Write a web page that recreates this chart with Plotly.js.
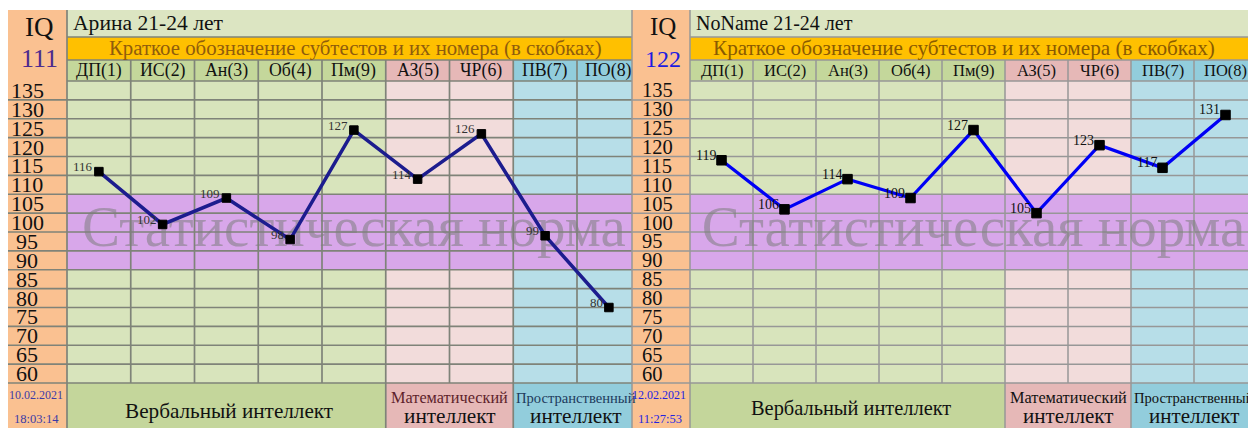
<!DOCTYPE html>
<html>
<head>
<meta charset="utf-8">
<script src="https://cdn.plot.ly/plotly-3.0.1.min.js"></script>
<style>html,body{margin:0;padding:0;background:#fff;}#chart{width:1248px;height:428px;}</style>
</head>
<body>
<div id="chart"></div>
<script>
// ---------------- data ----------------
const subtests = ['ДП(1)','ИС(2)','Ан(3)','Об(4)','Пм(9)','АЗ(5)','ЧР(6)','ПВ(7)','ПО(8)'];
const arinaScores  = [116, 102, 109, 98, 127, 114, 126, 99, 80];
const nonameScores = [119, 106, 114, 109, 127, 105, 123, 117, 131];
const rowLabels = [135, 130, 125, 120, 115, 110, 105, 100, 95, 90, 85, 80, 75, 70, 65, 60];
const personNames = ['Арина 21-24 лет', 'NoName 21-24 лет'];
const iqTotals = ['111', '122'];
const testDates = ['10.02.2021', '12.02.2021'];
const testTimes = ['18:03:14', '11:27:53'];
const headerText = 'Краткое обозначение субтестов и их номера (в скобках)';
const normText = 'Статистическая норма';
const normRange = [90, 110];
const groupNames = [['Вербальный интеллект'], ['Математический', 'интеллект'], ['Пространственный', 'интеллект']];
const groupSpans = [[0, 5], [5, 7], [7, 9]];

// ---------------- geometry / style ----------------
const W = 1248, H = 428;
const px = x => x / W, py = y => 1 - y / H;
const TOP = 10, ORANGE_TOP = 37, HEAD_TOP = 60, GRID_TOP = 81, GRID_BOT = 383, BOT = 428;
const VMIN = 60, VMAX = 140;
const vToY = v => GRID_TOP + (VMAX - v) * (GRID_BOT - GRID_TOP) / (VMAX - VMIN);
const SERIF = 'Liberation Serif';

const groupColors = [
  {head: '#c4d79b', body: '#d8e4bc', foot: '#c4d69b'},
  {head: '#e6b8b7', body: '#f2dcdb', foot: '#e6b8b7'},
  {head: '#92cddc', body: '#b7dee8', foot: '#92cddc'}
];

const panels = [
  {x0: 8, xc: 67, x1: 632, colW: 63.75, xa: 'x', ya: 'y', scores: arinaScores,
   line: '#1c1c8e', lw: 3.5, msize: 8.5, grid: '#7f8379', gw: 1.7,
   iqColor: '#4b2a8e', dateColor: '#3b3ba6', fz: 1.08, rowAlign: 'center', rowX: 27,
   labColor: '#333', orangeTxt: '#8f5c0c', mathTxt: '#5e1f2b', spaTxt: '#1d3b5c',
   orangeCx: 355, orangeSize: 20.8, verbSize: 21.2, verbY: 411, interSize: 21.3},
  {x0: 632, xc: 690, x1: 1248, colW: 63, xa: 'x2', ya: 'y2', scores: nonameScores,
   line: '#0000f5', lw: 3.2, msize: 9.5, grid: '#979797', gw: 1.5,
   iqColor: '#1c1ce0', dateColor: '#2424e0', fz: 1.0, rowAlign: 'left', rowX: 640,
   labColor: '#111', orangeTxt: '#8a5a00', mathTxt: '#111', spaTxt: '#111',
   orangeCx: 964, orangeSize: 21.2, verbSize: 20.4, verbY: 408, interSize: 21}
];

const traces = [];
const shapes = [];
const annotations = [];
const layout = {
  width: W, height: H, margin: {l: 0, r: 0, t: 0, b: 0},
  paper_bgcolor: '#ffffff', plot_bgcolor: 'rgba(0,0,0,0)',
  showlegend: false, hovermode: false, font: {family: SERIF}
};

function rect(x0, y0, x1, y1, color) {
  shapes.push({type: 'rect', xref: 'paper', yref: 'paper', x0: px(x0), x1: px(x1), y0: py(y1), y1: py(y0),
    fillcolor: color, line: {width: 0}, layer: 'below'});
}
function line(x0, y0, x1, y1, color, w) {
  shapes.push({type: 'line', xref: 'paper', yref: 'paper', x0: px(x0), x1: px(x1), y0: py(y0), y1: py(y1),
    line: {color: color, width: w}, layer: 'below'});
}
function text(x, y, t, size, color, opts) {
  annotations.push(Object.assign({xref: 'paper', yref: 'paper', x: px(x), y: py(y), text: t, showarrow: false,
    xanchor: 'center', yanchor: 'middle', font: {family: SERIF, size: size, color: color}}, opts || {}));
}

panels.forEach((p, pi) => {
  const edge = k => Math.min(p.xc + k * p.colW, p.x1);
  const nCols = subtests.length;
  const rangeEnd = -0.5 + (p.x1 - p.xc) / p.colW;
  const axSuffix = pi === 0 ? '' : '2';
  layout['xaxis' + axSuffix] = {domain: [px(p.xc), px(p.x1)], range: [-0.5, rangeEnd], type: 'category',
    categoryarray: subtests, showgrid: false, zeroline: false, showticklabels: false, ticks: '',
    showline: false, fixedrange: true, anchor: p.ya};
  layout['yaxis' + axSuffix] = {domain: [py(GRID_BOT), py(GRID_TOP)], range: [VMIN, VMAX],
    showgrid: false, zeroline: false, showticklabels: false, ticks: '', showline: false,
    fixedrange: true, anchor: p.xa};

  // backgrounds
  rect(p.x0, TOP, p.xc, BOT, '#fac191');
  rect(p.xc, TOP, p.x1, ORANGE_TOP, '#dce5c2');
  rect(p.xc, ORANGE_TOP, p.x1, HEAD_TOP, '#ffc000');
  groupSpans.forEach((g, gi) => {
    const a = edge(g[0]), b = edge(g[1]);
    rect(a, HEAD_TOP, b, GRID_TOP, groupColors[gi].head);
    rect(a, GRID_TOP, b, GRID_BOT, groupColors[gi].body);
    rect(a, GRID_BOT, b, BOT, groupColors[gi].foot);
  });
  rect(p.xc, vToY(normRange[1]), p.x1, vToY(normRange[0]), '#d8a7ea');

  // grid lines
  for (let v = VMIN; v <= VMAX; v += 5) {
    const y = vToY(v);
    line(v === VMAX ? p.xc : p.x0, y, p.x1, y, p.grid, p.gw);
  }
  line(p.xc, ORANGE_TOP, p.x1, ORANGE_TOP, p.grid, p.gw);
  line(p.xc, HEAD_TOP, p.x1, HEAD_TOP, p.grid, p.gw);
  for (let k = 1; k < nCols; k++) line(edge(k), HEAD_TOP, edge(k), GRID_BOT, p.grid, p.gw);
  line(p.xc, TOP, p.xc, BOT, p.grid, p.gw);
  groupSpans.slice(1).forEach(g => line(edge(g[0]), GRID_BOT, edge(g[0]), BOT, p.grid, p.gw));
  if (pi === 1) line(p.x0, TOP, p.x0, BOT, p.grid, p.gw);

  // left column texts
  const iqX = (p.x0 + p.xc) / 2 + 2;
  text(iqX, 27, 'IQ', 25 * p.fz, '#111');
  text(iqX, 59, iqTotals[pi], 24 * p.fz, p.iqColor);
  rowLabels.forEach(v => {
    annotations.push({xref: 'paper', yref: p.ya, x: px(p.rowX), y: v + 2.5, text: String(v), showarrow: false,
      xanchor: p.rowAlign, yanchor: 'middle', font: {family: SERIF, size: pi === 0 ? 22 : 20.5, color: '#111'}});
  });
  text(iqX - 4, 395, testDates[pi], 12, p.dateColor);
  text(iqX - 3, 419, testTimes[pi], 12.5, p.dateColor);

  // header texts
  text(p.xc + 3.5, 23, personNames[pi], 20 * p.fz, '#111', {xanchor: 'left'});
  text(p.orangeCx, 48.5, headerText, p.orangeSize, p.orangeTxt);
  subtests.forEach((s, i) => {
    annotations.push({xref: p.xa, yref: 'paper', x: s, y: py(70.5), text: s, showarrow: false,
      xanchor: 'center', yanchor: 'middle', font: {family: SERIF, size: 16.5 * p.fz, color: '#111'}});
  });

  // footer group names
  const gc = gi => (edge(groupSpans[gi][0]) + edge(groupSpans[gi][1])) / 2;
  text(gc(0) + 3, p.verbY, groupNames[0][0], p.verbSize, '#111');
  const mathC = edge(5) + (edge(7) - edge(5)) / 2;
  text(mathC, 397.5, groupNames[1][0], 16.3, p.mathTxt);
  text(mathC, 416, groupNames[1][1], p.interSize, '#111');
  text(edge(7) + 1, 397.5, groupNames[2][0], 14.6, p.spaTxt, {xanchor: 'left'});
  text(edge(7) + 63, 416, groupNames[2][1], p.interSize, '#111');

  // watermark (under the line)
  traces.push({type: 'scatter', mode: 'text', x: [subtests[4]], y: [(normRange[0] + normRange[1]) / 2],
    text: [normText], textposition: 'middle center', xaxis: p.xa, yaxis: p.ya, cliponaxis: false,
    textfont: {family: SERIF, size: 57, color: 'rgba(125,125,125,0.55)'}, hoverinfo: 'skip'});

  // data line
  traces.push({type: 'scatter', mode: 'lines+markers', x: subtests, y: p.scores, xaxis: p.xa, yaxis: p.ya,
    line: {color: p.line, width: p.lw}, cliponaxis: false,
    marker: {symbol: 'square', size: p.msize, color: '#000', line: {color: '#000', width: 1}}});

  p.scores.forEach((v, i) => {
    annotations.push({xref: p.xa, yref: p.ya, x: subtests[i], y: v, text: String(v), showarrow: false,
      xanchor: 'right', yanchor: 'middle', xshift: -4, yshift: 5,
      font: {family: SERIF, size: pi === 0 ? 13 : 14, color: p.labColor}});
  });
});

layout.shapes = shapes;
layout.annotations = annotations;
Plotly.newPlot('chart', traces, layout, {staticPlot: true, displayModeBar: false});
</script>
</body>
</html>
